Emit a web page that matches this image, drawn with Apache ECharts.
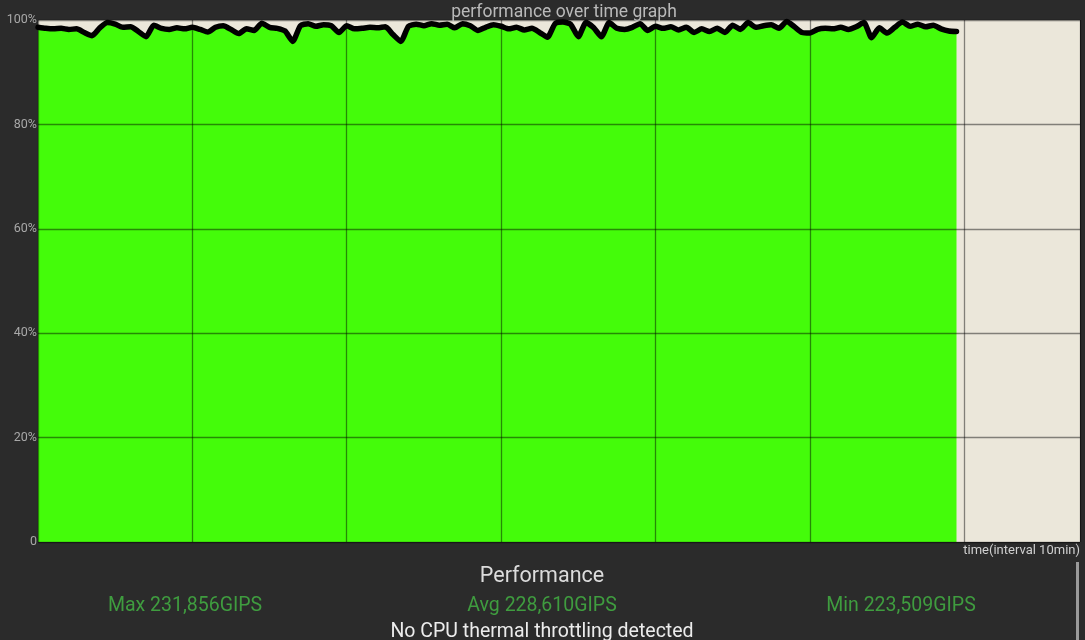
<!DOCTYPE html>
<html>
<head>
<meta charset="utf-8">
<script src="https://cdn.jsdelivr.net/npm/echarts@6/dist/echarts.min.js"></script>
<style>
html,body{margin:0;padding:0;background:#2b2b2b;}
#c{width:1085px;height:640px;}
</style>
</head>
<body>
<div id="c"></div>
<script>
// performance (% of max) sampled every 0.5 min
const stepMinutes = 0.5;
const perfValues = [
 98.6,98.4,98.3,98.4,98.2,98.3,97.6,97.0,98.5,99.5,
 99.2,98.6,98.7,97.8,96.8,99.0,98.4,98.2,98.5,98.3,
 98.6,98.2,97.7,98.6,98.9,98.2,97.4,98.3,98.0,99.4,
 98.6,98.4,97.9,95.9,98.9,99.3,98.8,99.1,98.9,97.6,
 98.9,98.3,98.4,98.6,98.5,98.7,97.2,95.9,98.8,99.2,
 98.9,99.3,99.0,99.2,98.5,99.3,98.9,98.0,98.6,99.1,
 98.8,98.3,98.6,98.1,98.4,97.6,96.7,99.3,99.6,99.2,
 96.8,99.5,98.5,96.8,99.5,98.4,98.2,98.6,99.3,98.0,
 98.8,98.4,98.7,98.1,98.6,97.6,98.3,97.8,98.4,97.6,
 99.0,98.2,99.5,98.6,98.9,99.1,98.4,99.7,98.7,97.6,
 97.5,98.2,98.4,98.3,98.6,98.2,98.7,99.5,96.6,98.5,
 97.5,98.6,99.6,98.8,99.2,98.7,99.0,98.3,97.9,97.8
];
const yTicks = [0,20,40,60,80,100];
const titleText = 'performance over time graph';
const xAxisName = 'time(interval 10min)';
const summaryTitle = 'Performance';
const maxText = 'Max 231,856GIPS';
const avgText = 'Avg 228,610GIPS';
const minText = 'Min 223,509GIPS';
const statusText = 'No CPU thermal throttling detected';

const seriesData = perfValues.map((v,i)=>[i*stepMinutes, v]);

const chart = echarts.init(document.getElementById('c'), null, {renderer:'canvas'});
const font = 'Roboto, "Noto Sans", sans-serif';
chart.setOption({
  backgroundColor:'#2b2b2b',
  animation:false,
  title:{
    text:titleText, left:559, top:-1, textAlign:'center',
    textStyle:{color:'#b9b9b9', fontSize:17.5, fontWeight:'normal', fontFamily:font}
  },
  grid:{left:38, right:5, top:20, bottom:98, show:true, backgroundColor:'#ebe7da', borderWidth:0},
  xAxis:{
    type:'value', min:0, max:67.5, interval:10, z:5,
    name:xAxisName, nameLocation:'end', nameGap:0,
    nameTextStyle:{color:'#cfcfcf', fontSize:13, fontFamily:font, align:'right', verticalAlign:'top', padding:[2,0,0,0]},
    axisLine:{show:false}, axisTick:{show:false}, axisLabel:{show:false},
    splitLine:{show:true, lineStyle:{color:'rgba(0,0,0,0.45)', width:1.3}}
  },
  yAxis:{
    type:'value', min:0, max:100, interval:20, z:5,
    axisLine:{show:false}, axisTick:{show:false},
    axisLabel:{color:'#a8a8a8', fontSize:12.5, fontFamily:font, margin:1,
      formatter:v=> v===0 ? '0' : v+'%'},
    splitLine:{show:true, lineStyle:{color:'rgba(0,0,0,0.45)', width:1.3}}
  },
  series:[{
    type:'line', data:seriesData, symbol:'none', smooth:0.2, z:2,
    lineStyle:{color:'#000', width:5.5, join:'round', cap:'round'},
    areaStyle:{color:'#44fc0a', opacity:1}
  }],
  graphic:[
    {type:'text', x:542, y:577, style:{text:summaryTitle, fill:'#dcdcdc', font:'21.5px '+font, align:'center', verticalAlign:'middle'}},
    {type:'text', x:185, y:606, style:{text:maxText, fill:'#3f9c3f', font:'19.5px '+font, align:'center', verticalAlign:'middle'}},
    {type:'text', x:542, y:606, style:{text:avgText, fill:'#3f9c3f', font:'19.5px '+font, align:'center', verticalAlign:'middle'}},
    {type:'text', x:901, y:606, style:{text:minText, fill:'#3f9c3f', font:'19.5px '+font, align:'center', verticalAlign:'middle'}},
    {type:'text', x:542, y:632, style:{text:statusText, fill:'#ececec', font:'19.5px '+font, align:'center', verticalAlign:'middle'}},
    {type:'rect', shape:{x:1076, y:562, width:3, height:78}, style:{fill:'#9a9a9a'}}
  ]
});
</script>
</body>
</html>
